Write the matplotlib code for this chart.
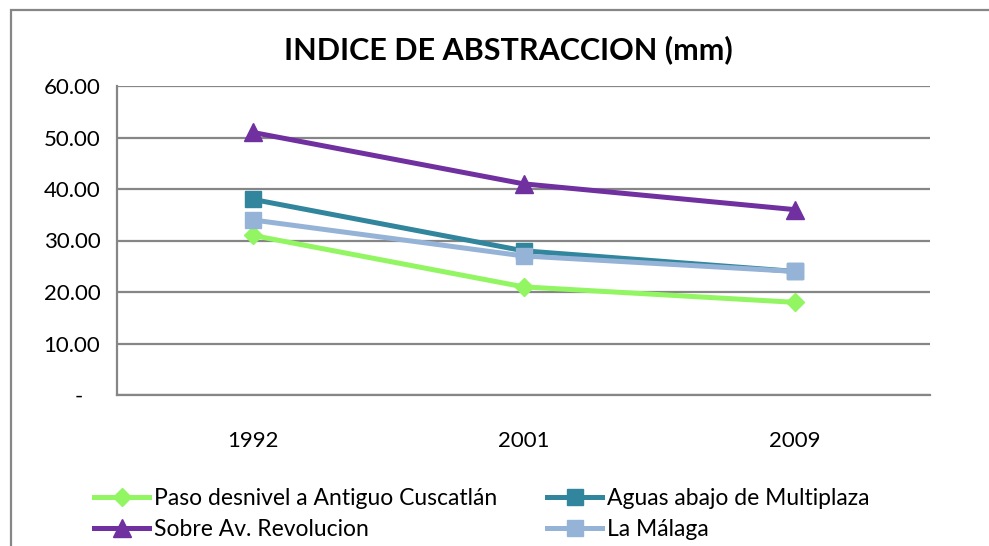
import matplotlib
matplotlib.use('Agg')
import matplotlib.pyplot as plt
from matplotlib.patches import Rectangle
from matplotlib.ticker import FuncFormatter

plt.rcParams['font.family'] = ['Lato', 'DejaVu Sans']

# datos
years = ['1992', '2001', '2009']
paso = [31.0, 21.0, 18.0]
aguas = [38.0, 28.0, 24.0]
sobre = [51.0, 41.0, 36.0]
malaga = [34.0, 27.0, 24.0]

labels = ['Paso desnivel a Antiguo Cuscatlán', 'Aguas abajo de Multiplaza',
          'Sobre Av. Revolucion', 'La Málaga']
yticks = [0, 10, 20, 30, 40, 50, 60]

fig = plt.figure(figsize=(9.89, 5.46), dpi=100)
ax = fig.add_axes([117 / 989, 1 - 395 / 546, 813 / 989, 309 / 546])

x = range(len(years))
l1, = ax.plot(x, paso, color='#92F562', lw=3.6, marker='D', ms=9, zorder=3)
l2, = ax.plot(x, aguas, color='#31859C', lw=3.6, marker='s', ms=11, zorder=3)
l3, = ax.plot(x, sobre, color='#7030A0', lw=3.6, marker='^', ms=13, zorder=4)
l4, = ax.plot(x, malaga, color='#95B3D7', lw=3.6, marker='s', ms=11, zorder=3)

ax.set_xlim(-0.5, 2.5)
ax.set_ylim(0, 60)
ax.set_xticks(list(x))
ax.set_xticklabels(years)
ax.set_yticks(yticks)
ax.yaxis.set_major_formatter(FuncFormatter(lambda v, p: '-   ' if v == 0 else f'{v:.2f}'))
ax.tick_params(length=0, labelsize=16, pad=12)
ax.tick_params(axis='x', pad=26)
ax.grid(axis='y', color='#868686', lw=1.6)
ax.set_axisbelow(True)
for s in ['top', 'right']:
    ax.spines[s].set_visible(False)
for s in ['left', 'bottom']:
    ax.spines[s].set_color('#868686')
    ax.spines[s].set_linewidth(1.6)

fig.text(508 / 989, 1 - 50 / 546, 'INDICE DE ABSTRACCION (mm)', ha='center', va='center',
         fontsize=22, fontweight='bold')

# leyenda por filas: el orden de columnas de matplotlib se rellena por columna
handles = [l1, l3, l2, l4]
leg_labels = [labels[0], labels[2], labels[1], labels[3]]
fig.legend(handles, leg_labels, loc='upper left', bbox_to_anchor=(85 / 989, 1 - 479 / 546),
           ncol=2, frameon=False, fontsize=16.5, handlelength=2.4, handletextpad=0.2,
           columnspacing=2.2, labelspacing=0.45, borderaxespad=0)

# borde exterior del grafico
fig.patches.append(Rectangle((11 / 989, -0.1), 1.2, 1.1 - 10 / 546, transform=fig.transFigure,
                             fill=False, edgecolor='#868686', lw=1.6))

fig.savefig('out.png', dpi=100)
